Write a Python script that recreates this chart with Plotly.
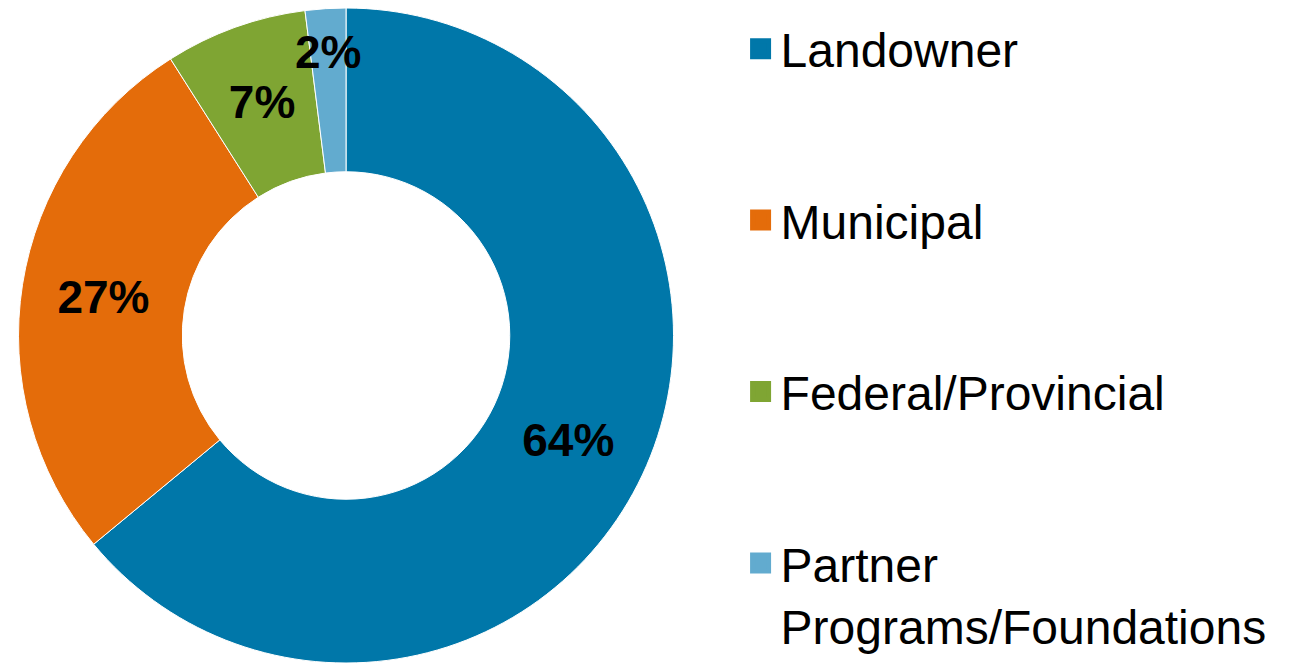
import plotly.graph_objects as go

# funding sources
sources = ["Landowner", "Municipal", "Federal/Provincial", "Partner<br>Programs/Foundations"]
shares = [64, 27, 7, 2]
colours = ["#0077A9", "#E46C0A", "#7FA533", "#62ABCF"]

label_font = dict(family="Liberation Sans", size=46, color="black", weight="bold")

fig = go.Figure()

# the ring itself, with labels for the two big slices
fig.add_trace(go.Pie(
    labels=sources,
    values=shares,
    hole=0.5,
    sort=False,
    direction="clockwise",
    marker=dict(colors=colours, line=dict(color="white", width=1)),
    texttemplate=["%{percent:.0%}", "%{percent:.0%}", "", ""],
    textposition="inside",
    insidetextorientation="horizontal",
    textfont=label_font,
    domain=dict(x=[0, 0.5261], y=[0, 1]),
    showlegend=False,
    hoverinfo="label+percent",
))

# transparent copy, slightly smaller, so the thin-slice labels sit lower in the ring
fig.add_trace(go.Pie(
    labels=sources,
    values=shares,
    hole=0.543,
    sort=False,
    direction="clockwise",
    marker=dict(colors=["rgba(0,0,0,0)"] * 4, line=dict(width=0)),
    texttemplate=["", "", "%{percent:.0%}", "%{percent:.0%}"],
    textposition="inside",
    insidetextorientation="horizontal",
    textfont=label_font,
    domain=dict(x=[0.0280, 0.4981], y=[0.0389, 0.9611]),
    showlegend=False,
    hoverinfo="skip",
))

# legend entries, one group each so the gap can be set
for name, c in zip(sources, colours):
    fig.add_trace(go.Scatter(
        x=[None], y=[None],
        mode="markers",
        name=name,
        legendgroup=name,
        marker=dict(symbol="square", size=16, color=c, line=dict(color=c, width=5)),
        showlegend=True,
    ))

# page body adds an 8px margin, so the figure is a bit smaller than the window
fig.update_layout(
    width=1285, height=655,
    margin=dict(l=0, r=0, t=0, b=0),
    paper_bgcolor="white",
    plot_bgcolor="white",
    font=dict(family="Liberation Sans", color="black"),
    uniformtext=dict(minsize=46, mode="show"),
    xaxis=dict(visible=False),
    yaxis=dict(visible=False),
    legend=dict(
        x=0.5701, xanchor="left",
        y=0.995, yanchor="top",
        font=dict(family="Liberation Sans", size=48, color="black"),
        tracegroupgap=106,
        valign="top",
        bgcolor="rgba(0,0,0,0)",
    ),
)

fig.write_html("out.html")
